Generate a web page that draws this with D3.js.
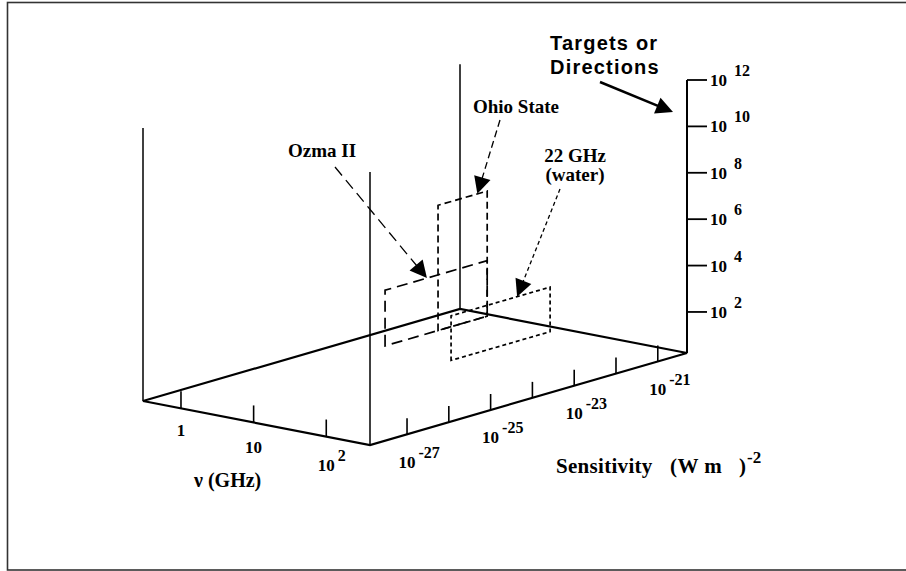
<!DOCTYPE html>
<html>
<head>
<meta charset="utf-8">
<script src="https://cdn.jsdelivr.net/npm/d3@7"></script>
<style>
  body { margin: 0; background: #fff; }
  svg { display: block; }
</style>
</head>
<body>
<svg id="chart" width="906" height="571"></svg>
<script>
// axis values
var freqDomain = [0.3, 400];          // GHz
var sensDomain = [1.3e-28, 5e-21];    // W m^-2
var targDomain = [1.7, 1e12];         // targets or directions
var backPostTop = 6e10;

var freqTicks = [1, 10, 100];
var freqTickBase = ["1", "10", "10"];
var freqTickSup = ["", "", "2"];

var sensTicks = [1e-27, 1e-26, 1e-25, 1e-24, 1e-23, 1e-22, 1e-21];
var sensLabelTicks = [1e-27, 1e-25, 1e-23, 1e-21];
var sensTickSup = ["-27", "-25", "-23", "-21"];

var targTicks = [1e2, 1e4, 1e6, 1e8, 1e10, 1e12];
var targTickSup = ["2", "4", "6", "8", "10", "12"];

// searches (one frequency, a range of sensitivity, a range of targets)
var searchNames = ["Ozma II", "Ohio State", "22 GHz (water)"];
var searchFreq = [1.42, 1.42, 22];
var searchSensLo = [5.4e-24, 1e-22, 1.75e-24];
var searchSensHi = [1.5e-21, 1.5e-21, 4.1e-22];
var searchTargLo = [4, 4, 9];
var searchTargHi = [1000, 1e6, 750];
var searchDash = ["11,6", "7,4", "4,3"];

var svg = d3.select("#chart");
var serif = "'Liberation Serif', 'Times New Roman', serif";
var sans = "'Liberation Sans', Arial, sans-serif";

// oblique projection of the three log axes
var origin = [143, 401];
var fVec = [227, 44];
var sVec = [317, -92];

var fScale = d3.scaleLog().domain(freqDomain).range([0, 1]);
var sScale = d3.scaleLog().domain(sensDomain).range([0, 1]);
var nScale = d3.scaleLog().domain(targDomain).range([0, 273]);

function proj(f, s, n){
	var a = fScale(f), b = sScale(s), h = nScale(n);
	return [origin[0] + a*fVec[0] + b*sVec[0], origin[1] + a*fVec[1] + b*sVec[1] - h];
}

// frame
svg.append("rect")
	.attr("x", 7.5).attr("y", 2.5)
	.attr("width", 1000).attr("height", 567.5)
	.attr("fill", "none").attr("stroke", "#333").attr("stroke-width", 1.6);

var fMin = freqDomain[0], fMax = freqDomain[1];
var sMin = sensDomain[0], sMax = sensDomain[1];
var nMin = targDomain[0], nMax = targDomain[1];

var L = proj(fMin, sMin, nMin), F = proj(fMax, sMin, nMin),
	R = proj(fMax, sMax, nMin), B = proj(fMin, sMax, nMin);

var line = d3.line();

// floor
svg.append("path")
	.attr("d", line([L, F, R, B]) + "Z")
	.attr("fill", "none").attr("stroke", "#000").attr("stroke-width", 2.2)
	.attr("stroke-linejoin", "miter");

// posts
var posts = [[fMin, sMin, nMax], [fMax, sMin, nMax], [fMin, sMax, backPostTop]];
posts.forEach(function(p){
	svg.append("path")
		.attr("d", line([proj(p[0], p[1], nMin), proj(p[0], p[1], p[2])]))
		.attr("stroke", "#000").attr("stroke-width", 1.5);
});
// targets axis
svg.append("path")
	.attr("d", line([R, proj(fMax, sMax, nMax)]))
	.attr("stroke", "#000").attr("stroke-width", 2);

// frequency ticks
freqTicks.forEach(function(f, i){
	var p = proj(f, sMin, nMin);
	svg.append("line")
		.attr("x1", p[0]).attr("y1", p[1]).attr("x2", p[0]).attr("y2", p[1] - 17)
		.attr("stroke", "#000").attr("stroke-width", 1.6);
	var t = svg.append("text")
		.attr("x", p[0]).attr("y", p[1] + 27.5 + 3.5*i)
		.attr("text-anchor", "middle")
		.attr("font-family", serif).attr("font-weight", "bold").attr("font-size", 17)
		.text(freqTickBase[i]);
	if (freqTickSup[i]){
		var w = t.node().getComputedTextLength();
		svg.append("text")
			.attr("x", p[0] + w/2 + 3).attr("y", p[1] + 27.5 + 3.5*i - 10)
			.attr("font-family", serif).attr("font-weight", "bold").attr("font-size", 16)
			.text(freqTickSup[i]);
	}
});

// sensitivity ticks
sensTicks.forEach(function(s){
	var p = proj(fMax, s, nMin);
	svg.append("line")
		.attr("x1", p[0]).attr("y1", p[1]).attr("x2", p[0]).attr("y2", p[1] - 16)
		.attr("stroke", "#000").attr("stroke-width", 1.6);
});
sensLabelTicks.forEach(function(s, i){
	var p = proj(fMax, s, nMin);
	var t = svg.append("text")
		.attr("x", p[0]).attr("y", p[1] + 33.5)
		.attr("text-anchor", "middle")
		.attr("font-family", serif).attr("font-weight", "bold").attr("font-size", 17)
		.text("10");
	var w = t.node().getComputedTextLength();
	svg.append("text")
		.attr("x", p[0] + w/2 + 3).attr("y", p[1] + 23.5)
		.attr("font-family", serif).attr("font-weight", "bold").attr("font-size", 16)
		.text(sensTickSup[i]);
});

// targets ticks
targTicks.forEach(function(n, i){
	var p = proj(fMax, sMax, n);
	svg.append("line")
		.attr("x1", p[0]).attr("y1", p[1]).attr("x2", p[0] + 20).attr("y2", p[1])
		.attr("stroke", "#000").attr("stroke-width", 1.8);
	var t = svg.append("text")
		.attr("x", p[0] + 23).attr("y", p[1] + 6)
		.attr("font-family", serif).attr("font-weight", "bold").attr("font-size", 17)
		.text("10");
	var w = t.node().getComputedTextLength();
	svg.append("text")
		.attr("x", p[0] + 23 + w + 7).attr("y", p[1] - 4)
		.attr("font-family", serif).attr("font-weight", "bold").attr("font-size", 16)
		.text(targTickSup[i]);
});

// search boxes
searchNames.forEach(function(name, i){
	var f = searchFreq[i];
	var pts = [
		proj(f, searchSensLo[i], searchTargLo[i]),
		proj(f, searchSensLo[i], searchTargHi[i]),
		proj(f, searchSensHi[i], searchTargHi[i]),
		proj(f, searchSensHi[i], searchTargLo[i])
	];
	svg.append("path")
		.attr("d", line(pts) + "Z")
		.attr("fill", "none").attr("stroke", "#000").attr("stroke-width", 1.7)
		.attr("stroke-dasharray", searchDash[i]);
});

// arrows
function arrow(tail, tip, dash, width){
	var dx = tip[0] - tail[0], dy = tip[1] - tail[1];
	var len = Math.sqrt(dx*dx + dy*dy);
	var ux = dx/len, uy = dy/len;
	var hl = 17, hw = 8.5;
	var base = [tip[0] - ux*hl, tip[1] - uy*hl];
	svg.append("path")
		.attr("d", line([tail, [base[0] + ux*2, base[1] + uy*2]]))
		.attr("stroke", "#000").attr("stroke-width", width)
		.attr("stroke-dasharray", dash);
	svg.append("path")
		.attr("d", line([tip, [base[0] - uy*hw, base[1] + ux*hw], [base[0] + uy*hw, base[1] - ux*hw]]) + "Z")
		.attr("fill", "#000");
}

// labels with arrow tail and point along the top edge of each box
var searchLabelPos = [[288, 157], [473, 113], [575, 162]];
var searchArrowTail = [[335, 167], [500, 120], [560, 189]];
var searchArrowAt = [0.41, 0.80, 0.667];

searchNames.forEach(function(name, i){
	var lo = Math.log10(searchSensLo[i]), hi = Math.log10(searchSensHi[i]);
	var s = Math.pow(10, lo + searchArrowAt[i]*(hi - lo));
	var tip = proj(searchFreq[i], s, searchTargHi[i]);
	arrow(searchArrowTail[i], tip, searchDash[i], 1.3);

	var parts = name.split(" (");
	var t = svg.append("text")
		.attr("x", searchLabelPos[i][0]).attr("y", searchLabelPos[i][1])
		.attr("text-anchor", parts.length > 1 ? "middle" : "start")
		.attr("font-family", serif).attr("font-weight", "bold").attr("font-size", 19);
	t.append("tspan").text(parts[0]);
	if (parts.length > 1){
		t.append("tspan")
			.attr("x", searchLabelPos[i][0]).attr("dy", 19)
			.text("(" + parts[1]);
	}
});

// targets title + arrow
svg.append("text")
	.attr("x", 550).attr("y", 50)
	.attr("font-family", sans).attr("font-weight", "bold").attr("font-size", 20)
	.attr("letter-spacing", 1.2)
	.text("Targets or");
svg.append("text")
	.attr("x", 550).attr("y", 74)
	.attr("font-family", sans).attr("font-weight", "bold").attr("font-size", 20)
	.attr("letter-spacing", 1.2)
	.text("Directions");
arrow([600, 82], [673, 112], null, 2.5);

// axis titles
svg.append("text")
	.attr("x", 194).attr("y", 487)
	.attr("font-family", serif).attr("font-weight", "bold").attr("font-size", 20)
	.text("ν (GHz)");

svg.append("text")
	.attr("x", 556).attr("y", 473)
	.attr("font-family", serif).attr("font-weight", "bold").attr("font-size", 21)
	.attr("letter-spacing", 0.3)
	.text("Sensitivity");
svg.append("text")
	.attr("x", 670).attr("y", 473)
	.attr("font-family", serif).attr("font-weight", "bold").attr("font-size", 21)
	.attr("letter-spacing", 0.5)
	.text("(W m");
svg.append("text")
	.attr("x", 739).attr("y", 473)
	.attr("font-family", serif).attr("font-weight", "bold").attr("font-size", 21)
	.text(")");
svg.append("text")
	.attr("x", 747).attr("y", 463)
	.attr("font-family", serif).attr("font-weight", "bold").attr("font-size", 17)
	.text("-2");
</script>
</body>
</html>
